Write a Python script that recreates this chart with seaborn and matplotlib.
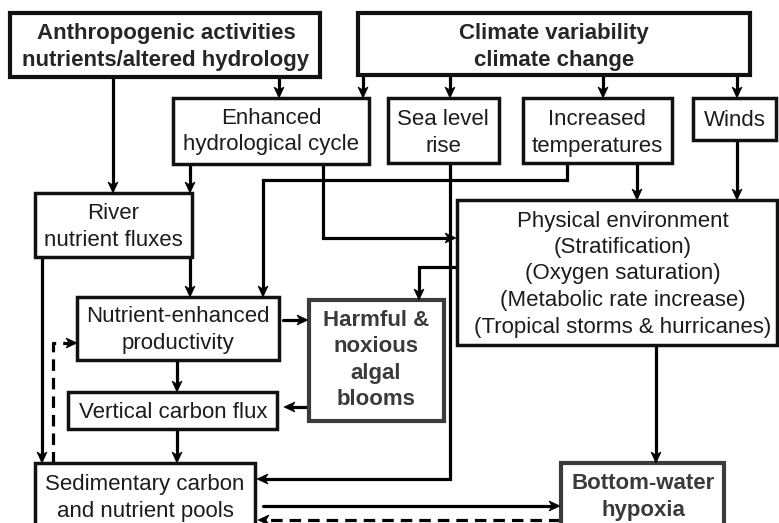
import matplotlib
matplotlib.use("Agg")
import matplotlib.pyplot as plt
import seaborn as sns
from matplotlib.patches import Rectangle, Polygon

# ---------------- content ----------------
box_names = ["anthro", "climate", "enhanced", "sealevel", "temps", "winds",
             "river", "physical", "nutrient", "harmful", "vertical",
             "sediment", "hypoxia"]
box_labels = [
    ["Anthropogenic activities", "nutrients/altered hydrology"],
    ["Climate variability", "climate change"],
    ["Enhanced", "hydrological cycle"],
    ["Sea level", "rise"],
    ["Increased", "temperatures"],
    ["Winds"],
    ["River", "nutrient fluxes"],
    ["Physical environment", "(Stratification)", "(Oxygen saturation)",
     "(Metabolic rate increase)", "(Tropical storms & hurricanes)"],
    ["Nutrient-enhanced", "productivity"],
    ["Harmful &", "noxious", "algal", "blooms"],
    ["Vertical carbon flux"],
    ["Sedimentary carbon", "and nutrient pools"],
    ["Bottom-water", "hypoxia"],
]
bold_boxes = ["anthro", "climate", "harmful", "hypoxia"]
grey_boxes = ["harmful", "hypoxia"]

# links: (from, to, dashed)
link_from = ["anthro", "anthro", "climate", "climate", "climate", "climate",
             "enhanced", "enhanced", "temps", "temps", "winds", "sealevel",
             "physical", "river", "river", "sediment", "nutrient", "harmful",
             "nutrient", "vertical", "physical", "sediment", "hypoxia"]
link_to = ["river", "enhanced", "enhanced", "sealevel", "temps", "winds",
           "river", "physical", "nutrient", "physical", "physical", "sediment",
           "harmful", "nutrient", "sediment", "nutrient", "harmful", "vertical",
           "vertical", "sediment", "hypoxia", "hypoxia", "sediment"]
link_dashed = [False] * 15 + [True] + [False] * 6 + [True]

# ---------------- layout (pixel space) ----------------
box_rect = {
    "anthro": (10, 13, 320, 77),
    "climate": (358, 13, 750, 75),
    "enhanced": (173, 98, 369, 164),
    "sealevel": (388, 98, 499, 163),
    "temps": (523, 98, 672, 163),
    "winds": (693, 98, 776, 140),
    "river": (35, 193, 192, 257),
    "physical": (457, 200, 777, 345),
    "nutrient": (77, 297, 279, 360),
    "harmful": (309, 300, 444, 421),
    "vertical": (68, 392, 277, 429),
    "sediment": (35, 463, 255, 540),
    "hypoxia": (561, 463, 724, 540),
}
text_center = {
    "anthro": (166, 47), "climate": (554, 47), "enhanced": (271, 131.5),
    "sealevel": (443, 133), "temps": (597, 133), "winds": (735, 120),
    "river": (113, 227), "physical": (623, 274), "nutrient": (178, 330),
    "harmful": (376, 360), "vertical": (173, 413), "sediment": (145, 498),
    "hypoxia": (643, 497),
}
link_paths = [
    [(113, 77), (113, 193)],
    [(279, 77), (279, 98)],
    [(363, 75), (363, 98)],
    [(450, 75), (450, 98)],
    [(603, 75), (603, 98)],
    [(737, 75), (737, 98)],
    [(190, 164), (190, 193)],
    [(323, 164), (323, 238), (456, 238)],
    [(567, 163), (567, 180), (263, 180), (263, 297)],
    [(637, 163), (637, 200)],
    [(737, 140), (737, 200)],
    [(450, 163), (450, 479), (257, 479)],
    [(457, 267), (419, 267), (419, 300)],
    [(190, 257), (190, 297)],
    [(42, 257), (42, 463)],
    [(53, 463), (53, 343), (77, 343)],
    [(283, 320), (308, 320)],
    [(309, 407), (284, 407)],
    [(177, 360), (177, 392)],
    [(177, 429), (177, 463)],
    [(656, 345), (656, 463)],
    [(263, 506), (560, 506)],
    [(560, 520), (258, 520)],
]

# ---------------- drawing ----------------
sns.set_theme(style="white")
plt.rcParams["font.family"] = ["Liberation Sans", "DejaVu Sans"]

fig = plt.figure(figsize=(7.79, 5.23), dpi=100)
ax = fig.add_axes([0, 0, 1, 1])
ax.set_xlim(0, 779)
ax.set_ylim(523, 0)
ax.axis("off")

FS = 16
LINE_H = 26.5
LW_LINE = 2.3
HEAD_L, HEAD_W, NOTCH = 11, 5, 3

for name, lines in zip(box_names, box_labels):
    x0, y0, x1, y1 = box_rect[name]
    grey = name in grey_boxes
    bold = name in bold_boxes
    ec = "#3c3c3c" if grey else "#111111"
    lw = 3.0 if (grey or name in ("anthro", "climate")) else 2.5
    ax.add_patch(Rectangle((x0, y0), x1 - x0, y1 - y0, fill=True,
                           facecolor="white", edgecolor=ec, linewidth=lw,
                           zorder=3))
    cx, cy = text_center[name]
    n = len(lines)
    for i, t in enumerate(lines):
        yy = cy + (i - (n - 1) / 2) * LINE_H
        ax.text(cx, yy, t, ha="center", va="center", fontsize=FS,
                fontweight="bold" if bold else "normal",
                color="#3a3a3a" if grey else ("#262626" if bold else "#1c1c1c"),
                zorder=5)


def arrow_head(p_prev, p_tip):
    (xa, ya), (xb, yb) = p_prev, p_tip
    dx, dy = xb - xa, yb - ya
    L = (dx ** 2 + dy ** 2) ** 0.5
    ux, uy = dx / L, dy / L
    px, py = -uy, ux
    bx, by = xb - ux * HEAD_L, yb - uy * HEAD_L
    nx, ny = xb - ux * (HEAD_L - NOTCH), yb - uy * (HEAD_L - NOTCH)
    pts = [(xb, yb), (bx + px * HEAD_W, by + py * HEAD_W), (nx, ny),
           (bx - px * HEAD_W, by - py * HEAD_W)]
    ax.add_patch(Polygon(pts, closed=True, facecolor="black",
                         edgecolor="black", linewidth=0.5, zorder=4))
    return (nx, ny)


for path, dashed in zip(link_paths, link_dashed):
    pts = list(path)
    end = arrow_head(pts[-2], pts[-1])
    pts[-1] = end
    xs = [p[0] for p in pts]
    ys = [p[1] for p in pts]
    sns.lineplot(x=xs, y=ys, sort=False, estimator=None, ax=ax,
                 color="black", linewidth=LW_LINE,
                 linestyle=(0, (3.6, 2.2)) if dashed else "-",
                 solid_joinstyle="miter", zorder=2)

fig.savefig("out.png", dpi=100)
